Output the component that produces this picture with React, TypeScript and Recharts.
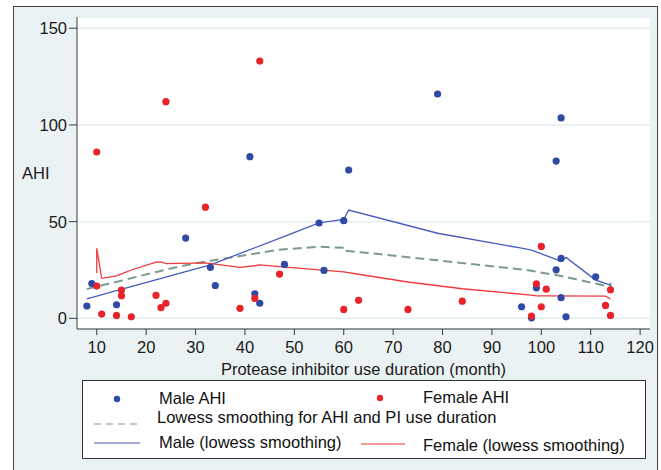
import { ComposedChart, XAxis, YAxis, CartesianGrid, Scatter, Line } from 'recharts';

// AHI by protease inhibitor use duration (months)
const maleAhi = [
    { x: 8, y: 6.4 }, { x: 9, y: 18 }, { x: 14, y: 7 }, { x: 28, y: 41.5 },
    { x: 33, y: 26.4 }, { x: 34, y: 17 }, { x: 41, y: 83.6 }, { x: 42, y: 12.7 },
    { x: 43, y: 7.8 }, { x: 48, y: 27.9 }, { x: 55, y: 49.3 }, { x: 56, y: 24.8 },
    { x: 60, y: 50.5 }, { x: 61, y: 76.7 }, { x: 79, y: 116 }, { x: 96, y: 6 },
    { x: 98, y: 0.3 }, { x: 99, y: 15.8 }, { x: 103, y: 81.3 }, { x: 103, y: 25.1 },
    { x: 104, y: 103.6 }, { x: 104, y: 31 }, { x: 104, y: 10.7 }, { x: 105, y: 0.8 },
    { x: 111, y: 21.5 },
];

const femaleAhi = [
    { x: 10, y: 86 }, { x: 10, y: 16.7 }, { x: 11, y: 2.2 }, { x: 14, y: 1.5 },
    { x: 15, y: 14.6 }, { x: 15, y: 11.7 }, { x: 17, y: 0.8 }, { x: 22, y: 11.9 },
    { x: 23, y: 5.5 }, { x: 24, y: 7.8 }, { x: 24, y: 112 }, { x: 32, y: 57.5 },
    { x: 39, y: 5.2 }, { x: 42, y: 10.3 }, { x: 43, y: 133 }, { x: 47, y: 22.9 },
    { x: 60, y: 4.6 }, { x: 63, y: 9.3 }, { x: 73, y: 4.6 }, { x: 84, y: 8.9 },
    { x: 98, y: 1.2 }, { x: 99, y: 17.9 }, { x: 100, y: 37.2 }, { x: 100, y: 6 },
    { x: 101, y: 15.1 }, { x: 113, y: 6.7 }, { x: 114, y: 14.8 }, { x: 114, y: 1.5 },
];

const lowessAll = [
    { x: 8, y: 15.2 }, { x: 15, y: 19.5 }, { x: 22, y: 24 }, { x: 28, y: 27.5 },
    { x: 33, y: 29.8 }, { x: 37, y: 31.4 }, { x: 47, y: 35.5 }, { x: 55, y: 37 },
    { x: 60, y: 36.5 }, { x: 60, y: 35 }, { x: 67, y: 33.3 }, { x: 79, y: 30 },
    { x: 97, y: 25 }, { x: 104, y: 21.9 }, { x: 114, y: 16.3 }, { x: 114, y: 18.4 },
];

const lowessMale = [
    { x: 8, y: 10.1 }, { x: 14, y: 14.3 }, { x: 28, y: 24.1 }, { x: 33, y: 27.6 },
    { x: 41, y: 35.5 }, { x: 48, y: 42.4 }, { x: 55, y: 49.4 }, { x: 60, y: 51.2 },
    { x: 61, y: 56 }, { x: 79, y: 44 }, { x: 96, y: 36.3 }, { x: 98, y: 35.3 },
    { x: 103, y: 30.5 }, { x: 104, y: 29.4 }, { x: 105, y: 31.5 }, { x: 111, y: 19.8 },
    { x: 114, y: 17.2 },
];

const lowessFemale = [
    { x: 10, y: 23.3 }, { x: 10, y: 36.2 }, { x: 11, y: 20.7 }, { x: 14, y: 22 },
    { x: 15, y: 23 }, { x: 17, y: 25 }, { x: 22, y: 29.1 }, { x: 23, y: 29.2 },
    { x: 24, y: 28.3 }, { x: 32, y: 28.7 }, { x: 39, y: 26.4 }, { x: 42, y: 27.2 },
    { x: 43, y: 27.7 }, { x: 47, y: 26.8 }, { x: 60, y: 24 }, { x: 63, y: 22.8 },
    { x: 73, y: 18.8 }, { x: 84, y: 15.3 }, { x: 98, y: 12 }, { x: 99, y: 11.6 },
    { x: 100, y: 11.6 }, { x: 101, y: 11.6 }, { x: 113, y: 11.5 }, { x: 114, y: 10 },
];

const xTicks = [10, 20, 30, 40, 50, 60, 70, 80, 90, 100, 110, 120];
const yTicks = [0, 50, 100, 150];

const FONT = '"Liberation Sans", Arial, Helvetica, sans-serif';
const FS = 16.5;
const BLUE_DOT = '#2f4aa3';
const RED_DOT = '#e8232a';
const BLUE_LINE = '#4a5bbf';
const RED_LINE = '#ef3a3e';
const GREEN = '#7d9b8d';
const AXIS = '#3a3a3a';

const dot = (color: string) => (p: any) => <circle cx={p.cx} cy={p.cy} r={3.6} fill={color} />;

function LegendBox() {
    const txt = { fontSize: FS, fill: '#111', fontFamily: FONT, dominantBaseline: 'central' as const };
    return (
        <svg width={661} height={470} style={{ position: 'absolute', left: 0, top: 0, pointerEvents: 'none' }}>
            <rect x={82.5} y={380.5} width={563} height={78} fill="#fff" stroke="#333" strokeWidth={1} />
            <circle cx={117} cy={399} r={3.2} fill={BLUE_DOT} />
            <text x={159} y={398} {...txt}>Male AHI</text>
            <circle cx={380} cy={398} r={3.2} fill={RED_DOT} />
            <text x={423} y={397} {...txt}>Female AHI</text>
            <line x1={94} y1={424} x2={141} y2={424} stroke={GREEN} strokeWidth={1.2} strokeDasharray="7 5" />
            <text x={157} y={417} {...txt}>Lowess smoothing for AHI and PI use duration</text>
            <line x1={94} y1={443} x2={140} y2={443} stroke={BLUE_LINE} strokeWidth={1.2} />
            <text x={159} y={442} {...txt}>Male (lowess smoothing)</text>
            <line x1={361} y1={444} x2={405} y2={444} stroke={RED_LINE} strokeWidth={1.2} />
            <text x={423} y={445} {...txt}>Female (lowess smoothing)</text>
        </svg>
    );
}

export default function App() {
    const tick = { fontSize: FS, fill: '#1a1a1a', fontFamily: FONT };
    return (
        <div style={{ position: 'absolute', left: 0, top: 0, width: 661, height: 470, background: '#fff', overflow: 'hidden', fontFamily: FONT }}>
            <div style={{ position: 'absolute', left: 13, top: 6, width: 645, height: 480, background: '#eaf2f3', border: '1.5px solid #444', boxSizing: 'border-box' }} />
            <ComposedChart
                width={661}
                height={470}
                margin={{ top: 17, right: 11, bottom: 91, left: 17 }}
                style={{ position: 'absolute', left: 0, top: 0 }}
            >
                <CartesianGrid vertical={false} fill="#fff" stroke="#e3eef0" strokeWidth={1.5} />
                <XAxis
                    type="number"
                    dataKey="x"
                    domain={[6, 122]}
                    ticks={xTicks}
                    allowDataOverflow
                    height={50}
                    tickSize={6}
                    tickMargin={6}
                    tick={tick}
                    stroke={AXIS}
                    label={{ value: 'Protease inhibitor use duration (month)', position: 'insideBottom', offset: 4, style: { fontSize: FS, fill: '#1a1a1a', fontFamily: FONT } }}
                />
                <YAxis
                    type="number"
                    dataKey="y"
                    domain={[-5.5, 155.8]}
                    ticks={yTicks}
                    allowDataOverflow
                    width={60}
                    tickSize={8}
                    tickMargin={2}
                    tick={tick}
                    stroke={AXIS}
                    label={{ value: 'AHI', position: 'insideLeft', offset: 5, angle: 0, style: { fontSize: FS, fill: '#1a1a1a', fontFamily: FONT } }}
                />
                <Scatter name="Male AHI" data={maleAhi} shape={dot(BLUE_DOT)} isAnimationActive={false} />
                <Scatter name="Female AHI" data={femaleAhi} shape={dot(RED_DOT)} isAnimationActive={false} />
                <Line data={lowessAll} dataKey="y" type="linear" stroke={GREEN} strokeWidth={2} strokeDasharray="9 5" dot={false} activeDot={false} isAnimationActive={false} />
                <Line data={lowessMale} dataKey="y" type="linear" stroke={BLUE_LINE} strokeWidth={1.3} dot={false} activeDot={false} isAnimationActive={false} />
                <Line data={lowessFemale} dataKey="y" type="linear" stroke={RED_LINE} strokeWidth={1.3} dot={false} activeDot={false} isAnimationActive={false} />
            </ComposedChart>
            <LegendBox />
        </div>
    );
}
